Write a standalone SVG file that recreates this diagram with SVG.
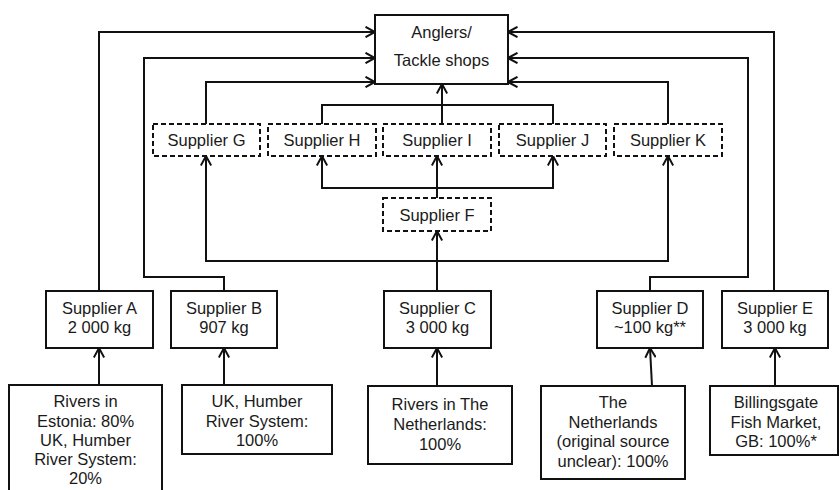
<svg xmlns="http://www.w3.org/2000/svg" width="839" height="490" viewBox="0 0 839 490">
<style>
.box{fill:#fff;stroke:#111;stroke-width:2}
.dash{fill:#fff;stroke:#111;stroke-width:2;stroke-dasharray:5 3}
.c{fill:none;stroke:#111;stroke-width:2;marker-end:url(#ah)}
.l{fill:none;stroke:#111;stroke-width:2}
text{font-family:"Liberation Sans",Arial,sans-serif;font-size:16.5px;fill:#1a1a1a;text-anchor:middle}
</style>
<defs>
<marker id="ah" viewBox="0 0 12 12" refX="10.5" refY="6" markerWidth="12" markerHeight="12" markerUnits="userSpaceOnUse" orient="auto">
<path d="M1,0.8 L10.5,6 L1,11.2" fill="none" stroke="#111" stroke-width="2"/>
</marker>
</defs>
<rect width="839" height="490" fill="#fff"/>
<g id="connectors">
<path class="c" d="M99,291 V32 H375"/>
<path class="c" d="M224,291 V277 H144 V58 H375"/>
<path class="c" d="M206,124 V82 H375"/>
<path class="c" d="M774,291 V32 H508"/>
<path class="c" d="M650,291 V277 H748 V58 H508"/>
<path class="c" d="M668,124 V82 H508"/>
<path class="l" d="M322,124 V105 H553 V124"/>
<path class="c" d="M442,124 V84"/>
<path class="c" d="M437,198 V156"/>
<path class="c" d="M437,188 H322 V156"/>
<path class="c" d="M437,188 H553 V156"/>
<path class="c" d="M437,291 V231"/>
<path class="c" d="M437,261 H206 V156"/>
<path class="c" d="M437,261 H668 V156"/>
<path class="c" d="M99,385 V348"/>
<path class="c" d="M224,385 V348"/>
<path class="c" d="M437,386 V348"/>
<path class="c" d="M652,386 L650,348"/>
<path class="c" d="M775,386 V348"/>
</g>
<g id="anglers">
<rect class="box" x="375" y="15" width="133" height="69"/>
<text x="441.5" y="38">Anglers/</text>
<text x="441.5" y="66">Tackle shops</text>
</g>
<g id="supplierG"><rect class="dash" x="153" y="124" width="107" height="32"/><text x="206.5" y="146">Supplier G</text></g>
<g id="supplierH"><rect class="dash" x="268" y="124" width="108" height="32"/><text x="322" y="146">Supplier H</text></g>
<g id="supplierI"><rect class="dash" x="383" y="124" width="108" height="32"/><text x="437" y="146">Supplier I</text></g>
<g id="supplierJ"><rect class="dash" x="499" y="124" width="107" height="32"/><text x="552.5" y="146">Supplier J</text></g>
<g id="supplierK"><rect class="dash" x="614" y="124" width="108" height="32"/><text x="668" y="146">Supplier K</text></g>
<g id="supplierF"><rect class="dash" x="383" y="198" width="108" height="33"/><text x="437" y="221">Supplier F</text></g>
<g id="supplierA"><rect class="box" x="46" y="291" width="107" height="57"/><text x="99.5" y="314">Supplier A</text><text x="99.5" y="333">2 000 kg</text></g>
<g id="supplierB"><rect class="box" x="171" y="291" width="106" height="57"/><text x="224" y="314">Supplier B</text><text x="224" y="333">907 kg</text></g>
<g id="supplierC"><rect class="box" x="384" y="291" width="107" height="57"/><text x="437.5" y="314">Supplier C</text><text x="437.5" y="333">3 000 kg</text></g>
<g id="supplierD"><rect class="box" x="597" y="291" width="106" height="57"/><text x="650" y="314">Supplier D</text><text x="650" y="333">~100 kg**</text></g>
<g id="supplierE"><rect class="box" x="722" y="291" width="106" height="57"/><text x="775" y="314">Supplier E</text><text x="775" y="333">3 000 kg</text></g>
<g id="sourceA"><rect class="box" x="9" y="385" width="153" height="115"/>
<text x="85.5" y="407">Rivers in</text><text x="85.5" y="427">Estonia: 80%</text><text x="85.5" y="446">UK, Humber</text><text x="85.5" y="465">River System:</text><text x="85.5" y="484">20%</text></g>
<g id="sourceB"><rect class="box" x="182" y="385" width="150" height="69"/>
<text x="257" y="407">UK, Humber</text><text x="257" y="427">River System:</text><text x="257" y="446">100%</text></g>
<g id="sourceC"><rect class="box" x="368" y="386" width="144" height="78"/>
<text x="440" y="410">Rivers in The</text><text x="440" y="430">Netherlands:</text><text x="440" y="450">100%</text></g>
<g id="sourceD"><rect class="box" x="541" y="386" width="144" height="93"/>
<text x="613" y="408">The</text><text x="613" y="428">Netherlands</text><text x="613" y="447">(original source</text><text x="613" y="467">unclear): 100%</text></g>
<g id="sourceE"><rect class="box" x="710" y="386" width="128" height="69"/>
<text x="776" y="408">Billingsgate</text><text x="776" y="428">Fish Market,</text><text x="776" y="447">GB: 100%*</text></g>
</svg>
